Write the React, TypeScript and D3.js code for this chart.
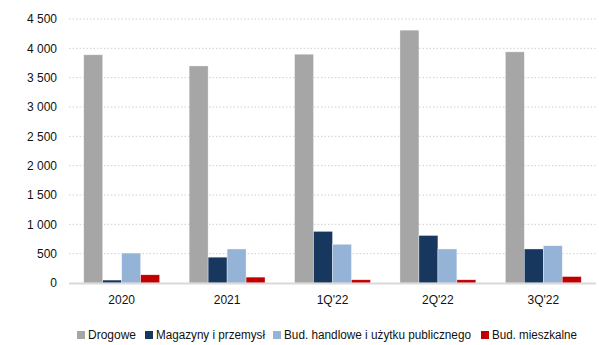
import React from "react";
import * as d3 from "d3";

const categories = ["2020", "2021", "1Q'22", "2Q'22", "3Q'22"];
const seriesNames = [
  "Drogowe",
  "Magazyny i przemysł",
  "Bud. handlowe i użytku publicznego",
  "Bud. mieszkalne",
];
const drogowe = [3890, 3700, 3900, 4310, 3940];
const magazyny = [50, 440, 880, 810, 580];
const handlowe = [510, 580, 660, 580, 635];
const mieszkalne = [140, 100, 55, 55, 110];
const yTicks = [0, 500, 1000, 1500, 2000, 2500, 3000, 3500, 4000, 4500];
const colors = ["#a6a6a6", "#17375e", "#95b3d7", "#c00000"];

const series = [drogowe, magazyny, handlowe, mieszkalne];

const W = 599;
const H = 345;
const left = 69;
const right = 596;
const top = 19;
const bottom = 283;
const FONT = "'Liberation Sans', Arial, sans-serif";

// legend layout: swatch x, label width
const legendX = [77, 145, 273, 481];
const legendTextW = [48, 109, 187, 85];

const fmt = (v: number) => d3.format(",")(v).replace(/,/g, " ");

export default function App() {
  const x = d3
    .scaleBand<string>()
    .domain(categories)
    .range([left, right])
    .paddingInner(0.28)
    .paddingOuter(0.14);
  const inner = d3
    .scaleBand<number>()
    .domain(d3.range(series.length))
    .range([0, x.bandwidth()]);
  const y = d3.scaleLinear().domain([0, 4500]).range([bottom, top]);

  return (
    <svg
      width={W}
      height={H}
      style={{ position: "absolute", left: 0, top: 0, background: "#fff" }}
      fontFamily={FONT}
    >
      {yTicks.map((t) => (
        <g key={t}>
          {t > 0 && (
            <line
              x1={left}
              x2={right}
              y1={y(t)}
              y2={y(t)}
              stroke="#d0d0d0"
              strokeWidth={1}
              strokeDasharray="1.5 2"
            />
          )}
          <text
            x={57}
            y={y(t)}
            dy="0.35em"
            textAnchor="end"
            fontSize={12}
            fill="#111"
          >
            {fmt(t)}
          </text>
        </g>
      ))}
      {categories.map((c, ci) => (
        <g key={c}>
          {series.map((s, si) => (
            <rect
              key={si}
              x={(x(c) as number) + (inner(si) as number)}
              y={y(s[ci])}
              width={inner.bandwidth()}
              height={bottom - y(s[ci])}
              fill={colors[si]}
              stroke="#ffffff"
              strokeOpacity={0.6}
              strokeWidth={0.6}
            />
          ))}
          <text
            x={(x(c) as number) + x.bandwidth() / 2}
            y={304}
            textAnchor="middle"
            fontSize={12}
            fill="#111"
          >
            {c}
          </text>
        </g>
      ))}
      <line
        x1={left}
        x2={right}
        y1={bottom + 0.5}
        y2={bottom + 0.5}
        stroke="#d9d9d9"
        strokeWidth={2}
      />
      {seriesNames.map((n, i) => (
        <g key={n} transform={`translate(${legendX[i]},0)`}>
          <rect x={0} y={331} width={8} height={8} fill={colors[i]} />
          <text
            x={11}
            y={339}
            fontSize={12}
            fill="#111"
            textLength={legendTextW[i]}
            lengthAdjust="spacingAndGlyphs"
          >
            {n}
          </text>
        </g>
      ))}
    </svg>
  );
}
